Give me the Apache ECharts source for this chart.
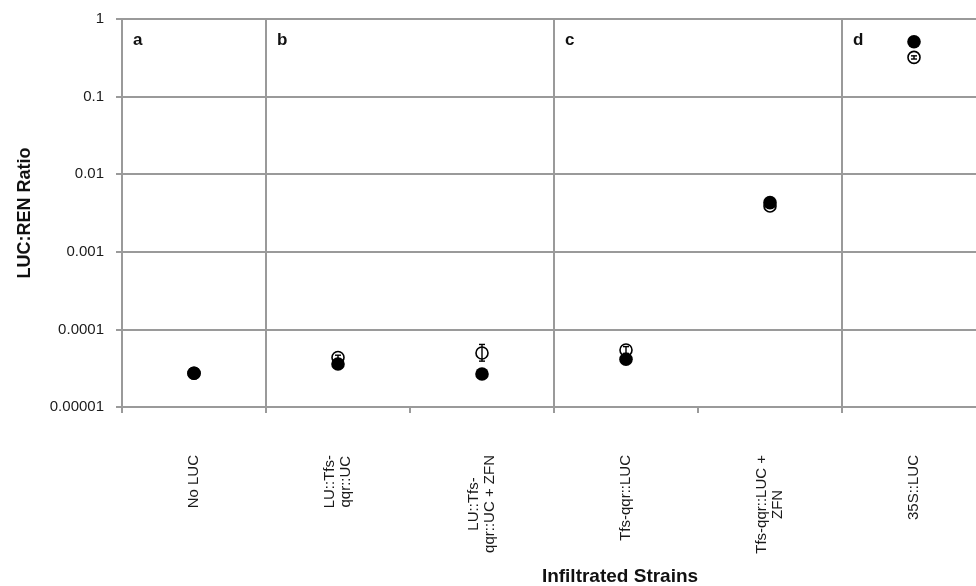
<!DOCTYPE html>
<html>
<head>
<meta charset="utf-8">
<script src="https://cdn.jsdelivr.net/npm/echarts@6/dist/echarts.min.js"></script>
<style>
html,body{margin:0;padding:0;background:#fff;}
#chart{width:976px;height:586px;}
</style>
</head>
<body>
<div id="chart"></div>
<script>
// ---- data ----
const categories = ['No LUC', 'LU::Tfs-\nqqr::UC', 'LU::Tfs-\nqqr::UC + ZFN', 'Tfs-qqr::LUC', 'Tfs-qqr::LUC +\nZFN', '35S::LUC'];
const filledValues = [0.0000272, 0.0000358, 0.0000266, 0.0000412, 0.0043, 0.51];
const openValues   = [0.0000272, 0.0000434, 0.0000496, 0.0000543, 0.0039, 0.32];
const openLow      = [0.0000272, 0.0000405, 0.0000390, 0.0000490, 0.0037, 0.305];
const openHigh     = [0.0000272, 0.0000465, 0.0000640, 0.0000600, 0.0041, 0.335];
const yTickLabels  = ['0.00001', '0.0001', '0.001', '0.01', '0.1', '1'];
const panelLetters = ['a', 'b', 'c', 'd'];
const panelStartIndex = [0, 1, 3, 5];

const FONT = 'Liberation Sans, Arial, sans-serif';
const GRID = '#9a9a9a';
const GRID_LEFT = 122, GRID_WIDTH = 864;

const chart = echarts.init(document.getElementById('chart'), null, {renderer: 'canvas'});

const pointData = openValues.map((v, i) => [i, v, openLow[i], openHigh[i], filledValues[i]]);

chart.setOption({
  animation: false,
  backgroundColor: '#fff',
  grid: {left: GRID_LEFT, top: 19, width: GRID_WIDTH, height: 388, containLabel: false, outerBoundsMode: 'none'},
  xAxis: {
    type: 'category',
    data: categories,
    boundaryGap: true,
    axisLine: {show: true, lineStyle: {color: GRID, width: 2}},
    axisTick: {show: true, interval: 0, length: 6, lineStyle: {color: GRID, width: 2}},
    splitLine: {
      show: true,
      interval: function (index) { return panelStartIndex.indexOf(index) > 0; },
      lineStyle: {color: GRID, width: 2}
    },
    axisLabel: {
      interval: 0,
      rotate: 90,
      margin: 48,
      fontFamily: FONT,
      fontSize: 15,
      color: '#1a1a1a',
      lineHeight: 16,
      formatter: function (v) {
        return v.split('\n').map(s => '{c|' + s + '}').join('\n');
      },
      rich: {c: {align: 'center', fontFamily: FONT, fontSize: 15, color: '#1a1a1a', lineHeight: 16}}
    }
  },
  yAxis: {
    type: 'log',
    logBase: 10,
    min: 0.00001,
    max: 1,
    name: 'LUC:REN Ratio',
    nameLocation: 'middle',
    nameGap: 88,
    nameTextStyle: {fontFamily: FONT, fontSize: 18, fontWeight: 'bold', color: '#111'},
    axisLine: {show: true, lineStyle: {color: GRID, width: 2}},
    axisTick: {show: true, length: 6, lineStyle: {color: GRID, width: 2}},
    splitLine: {show: true, lineStyle: {color: GRID, width: 2}},
    axisLabel: {
      fontFamily: FONT,
      fontSize: 15,
      color: '#1a1a1a',
      margin: 18,
      formatter: function (v) {
        const idx = Math.round(Math.log10(v)) + 5;
        return yTickLabels[idx];
      }
    }
  },
  series: [
    {
      type: 'custom',
      name: 'points',
      data: pointData,
      encode: {x: 0, y: [1, 2, 3, 4]},
      z: 3,
      renderItem: function (params, api) {
        const x = api.value(0);
        const c = api.coord([x, api.value(1)]);
        const lo = api.coord([x, api.value(2)]);
        const hi = api.coord([x, api.value(3)]);
        const f = api.coord([x, api.value(4)]);
        const w = 3;
        const st = {stroke: '#000', lineWidth: 1.4, fill: null};
        return {
          type: 'group',
          children: [
            {type: 'circle', z2: 1, shape: {cx: c[0], cy: c[1], r: 6}, style: {fill: '#fff', stroke: '#000', lineWidth: 1.6}},
            {type: 'line', z2: 2, shape: {x1: lo[0], y1: lo[1], x2: hi[0], y2: hi[1]}, style: st},
            {type: 'line', z2: 2, shape: {x1: lo[0] - w, y1: lo[1], x2: lo[0] + w, y2: lo[1]}, style: st},
            {type: 'line', z2: 2, shape: {x1: hi[0] - w, y1: hi[1], x2: hi[0] + w, y2: hi[1]}, style: st},
            {type: 'circle', z2: 3, shape: {cx: f[0], cy: f[1], r: 6.8}, style: {fill: '#000', stroke: null}}
          ]
        };
      }
    }
  ]
});

// panel letters placed at the left boundary of each panel
const graphics = panelLetters.map((t, k) => {
  const bandW = GRID_WIDTH / categories.length;
  const x = GRID_LEFT + panelStartIndex[k] * bandW + 11;
  return {type: 'text', x: x, y: 32, style: {text: t, fontFamily: FONT, fontSize: 17, fontWeight: 'bold', fill: '#111'}};
});
graphics.push({type: 'text', x: 620, y: 577, style: {text: 'Infiltrated Strains', fontFamily: FONT, fontSize: 19, fontWeight: 'bold', fill: '#111', align: 'center', verticalAlign: 'middle'}});
chart.setOption({graphic: graphics});
</script>
</body>
</html>
